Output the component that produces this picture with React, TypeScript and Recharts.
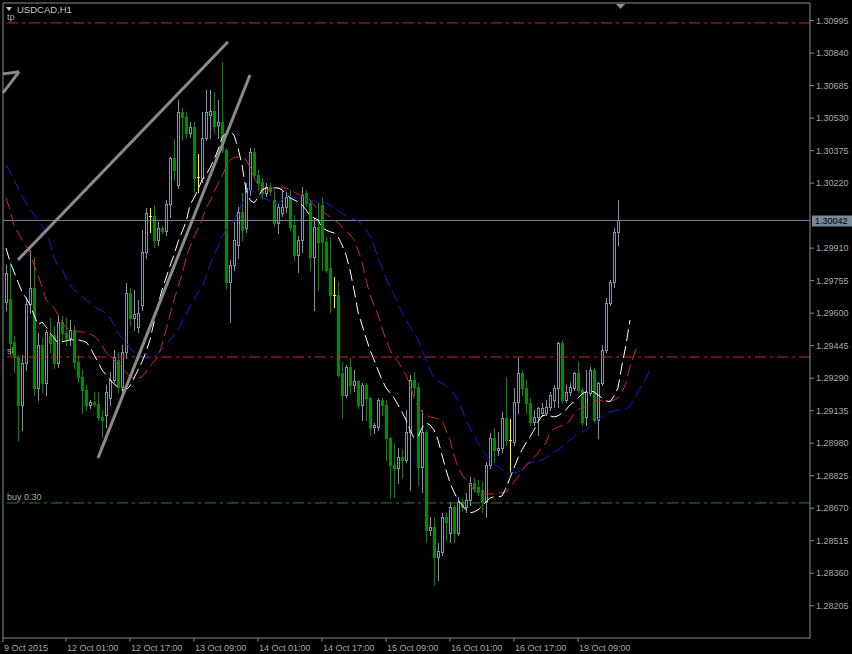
import { ComposedChart, Bar, Line, XAxis, YAxis, ReferenceLine, ReferenceDot } from 'recharts';

// USDCAD H1 — prices in points (1e-5), one entry per hourly bar
const OPEN = [
  129654, 129668, 129463, 129391, 129163, 129363, 129644, 129720, 129244, 129449,
  129267, 129492, 129497, 129363, 129558, 129506, 129482, 129520, 129368, 129296,
  129234, 129163, 129177, 129167, 129105, 129115, 129196, 129282, 129377, 129248,
  129415, 129697, 129578, 129535, 129639, 129892, 130064, 130064, 129950, 130007,
  129992, 130121, 130341, 130212, 130560, 130536, 130460, 130488, 130250, 130245,
  130436, 130546, 130565, 130498, 130512, 130379, 129749, 129830, 129926, 130083,
  130007, 130188, 130369, 130259, 130226, 130174, 130202, 130140, 130031, 130078,
  130107, 130150, 130021, 129878, 129950, 130174, 130126, 129868, 130011, 130116,
  129940, 129816, 129687, 129687, 129315, 129210, 129344, 129258, 129277, 129163,
  129258, 129196, 129058, 129058, 129186, 129163, 129005, 128876, 128862, 128915,
  128900, 129034, 129282, 129248, 128867, 129034, 128567, 128581, 128438, 128461,
  128628, 128552, 128676, 128552, 128700, 128676, 128709, 128790, 128771, 128757,
  128700, 128876, 129005, 128948, 128957, 129101, 128996, 128986, 129177, 129315,
  129244, 129172, 129082, 129105, 129124, 129124, 129153, 129186, 129244, 129458,
  129186, 129225, 129244, 129315, 129234, 129105, 129220, 129329, 129091, 129267,
  129425, 129649, 129749, 129988,
];
const HIGH = [
  129830, 129845, 129492, 129401, 129401, 129678, 129902, 129868, 129506, 129482,
  129520, 129578, 129539, 129592, 129587, 129578, 129568, 129544, 129401, 129329,
  129258, 129186, 129225, 129225, 129139, 129258, 129320, 129425, 129415, 129449,
  129744, 129720, 129711, 129663, 129997, 130102, 130102, 130116, 130035, 130016,
  130140, 130345, 130431, 130617, 130579, 130560, 130512, 130512, 130360, 130560,
  130665, 130665, 130655, 130617, 130798, 130388, 129854, 130035, 130107, 130174,
  130221, 130388, 130388, 130283, 130245, 130221, 130221, 130188, 130126, 130188,
  130178, 130188, 130069, 129969, 130202, 130188, 130140, 130054, 130131, 130155,
  129964, 129964, 129773, 129749, 129368, 129353, 129387, 129329, 129282, 129267,
  129267, 129201, 129077, 129196, 129196, 129186, 129010, 128981, 128957, 128948,
  129139, 129306, 129320, 129267, 129139, 129043, 128628, 128628, 128504, 128648,
  128648, 128700, 128686, 128724, 128719, 128743, 128819, 128814, 128805, 128795,
  128891, 129029, 129053, 129034, 129129, 129296, 129096, 129244, 129387, 129329,
  129282, 129196, 129139, 129153, 129172, 129186, 129225, 129258, 129463, 129473,
  129258, 129267, 129320, 129368, 129244, 129329, 129344, 129339, 129272, 129449,
  129673, 129759, 130007, 130140,
];
const LOW = [
  129616, 129401, 129320, 128996, 129043, 129329, 129601, 129210, 129186, 129225,
  129210, 129415, 129339, 129344, 129473, 129449, 129449, 129339, 129272, 129124,
  129139, 129148, 129158, 129091, 129010, 129058, 129163, 129272, 129220, 129225,
  129387, 129544, 129520, 129511, 129616, 129864, 129988, 129916, 129926, 129983,
  129973, 130059, 130236, 130197, 130426, 130436, 130441, 130178, 130178, 130226,
  130426, 130436, 130460, 130436, 130369, 129720, 129558, 129806, 129864, 129950,
  129988, 130164, 130245, 130188, 130150, 130159, 130164, 130016, 129983, 130064,
  130083, 129997, 129854, 129797, 129892, 130112, 129806, 129616, 129711, 129806,
  129797, 129606, 129630, 129296, 129101, 129201, 129220, 129229, 129148, 129091,
  129091, 129020, 129029, 129043, 129115, 128900, 128724, 128724, 128790, 128814,
  128891, 128757, 129210, 128781, 128747, 128509, 128543, 128304, 128328, 128447,
  128519, 128509, 128509, 128543, 128662, 128652, 128686, 128747, 128733, 128652,
  128628, 128862, 128891, 128924, 128938, 128972, 128843, 128972, 129124, 129210,
  129124, 129067, 129067, 129020, 129110, 129115, 129139, 129153, 129153, 129172,
  129177, 129210, 129234, 129225, 129067, 129067, 129210, 129082, 129005, 129258,
  129415, 129639, 129725, 129926,
];
const CLOSE = [
  129792, 129458, 129391, 129163, 129363, 129644, 129720, 129244, 129449, 129267,
  129511, 129458, 129363, 129558, 129506, 129482, 129520, 129368, 129296, 129234,
  129163, 129177, 129167, 129105, 129091, 129225, 129282, 129391, 129248, 129415,
  129697, 129578, 129597, 129601, 129892, 130078, 130064, 129950, 130007, 129992,
  130121, 130341, 130283, 130560, 130536, 130460, 130488, 130245, 130250, 130436,
  130560, 130565, 130493, 130512, 130379, 129749, 129830, 129950, 130083, 129997,
  130197, 130369, 130259, 130221, 130174, 130202, 130183, 130031, 130107, 130107,
  130155, 130011, 129878, 129950, 130164, 130126, 129868, 130011, 129940, 129940,
  129806, 129687, 129687, 129306, 129210, 129344, 129258, 129277, 129163, 129258,
  129196, 129058, 129067, 129186, 129163, 129005, 128876, 128862, 128915, 128900,
  129034, 129282, 129248, 128867, 129034, 128567, 128581, 128438, 128466, 128628,
  128605, 128676, 128552, 128700, 128676, 128709, 128790, 128766, 128747, 128700,
  128876, 129005, 128948, 128957, 129101, 128996, 128996, 129177, 129315, 129244,
  129172, 129082, 129105, 129148, 129148, 129153, 129210, 129244, 129458, 129186,
  129225, 129248, 129315, 129234, 129082, 129225, 129329, 129091, 129267, 129425,
  129649, 129749, 129988, 130042,
];

// Alligator lines (lips shifted 3 bars, teeth 5, jaw 8)
const LIPS = [
  129911, 129845, 129797, 129749, 129701, 129673, 129639, 129592, 129544, 129558,
  129535, 129506, 129482, 129458, 129463, 129468, 129473, 129473, 129473, 129468,
  129463, 129439, 129401, 129368, 129329, 129306, 129282, 129263, 129248, 129234,
  129234, 129253, 129291, 129329, 129368, 129415, 129473, 129558, 129639, 129711,
  129768, 129825, 129878, 129940, 129988, 130035, 130116, 130150, 130188, 130236,
  130259, 130293, 130331, 130379, 130436, 130460, 130465, 130450, 130388, 130307,
  130188, 130140, 130126, 130150, 130188, 130197, 130197, 130197, 130197, 130188,
  130169, 130150, 130140, 130131, 130116, 130093, 130064, 130054, 130045, 130007,
  129997, 129988, 129983, 129964, 129926, 129878, 129806, 129711, 129606, 129544,
  129482, 129425, 129377, 129329, 129282, 129244, 129220, 129196, 129163, 129129,
  129091, 129043, 129005, 129010, 129053, 129077, 129067, 129043, 128996, 128924,
  128853, 128790, 128747, 128709, 128686, 128662, 128648, 128652, 128662, 128681,
  128700, 128719, 128724, 128724, 128728, 128766, 128814, 128862, 128910, 128948,
  128981, 129010, 129043, 129082, 129110, 129115, 129110, 129105, 129110, 129124,
  129139, 129163, 129177, 129196, 129215, 129225, 129229, 129225, 129210, 129196,
  129182, 129177, 129205, 129244, 129353, 129449, 129568,
];
const TEETH = [
  130150, 130093, 130021, 129983, 129950, 129921, 129892, 129830, 129782, 129725,
  129663, 129644, 129625, 129592, 129558, 129530, 129520, 129516, 129511, 129511,
  129506, 129501, 129492, 129473, 129444, 129415, 129391, 129377, 129358, 129339,
  129320, 129296, 129291, 129291, 129296, 129320, 129349, 129368, 129391, 129449,
  129520, 129592, 129663, 129725, 129782, 129864, 129916, 129964, 130002, 130045,
  130102, 130131, 130178, 130217, 130250, 130298, 130331, 130341, 130345, 130345,
  130331, 130298, 130250, 130212, 130197, 130193, 130188, 130197, 130197, 130197,
  130197, 130188, 130178, 130169, 130159, 130155, 130140, 130116, 130097, 130088,
  130073, 130059, 130045, 130031, 130011, 129992, 129973, 129950, 129902, 129845,
  129759, 129687, 129639, 129592, 129530, 129473, 129425, 129391, 129368, 129339,
  129306, 129258, 129196, 129153, 129129, 129115, 129105, 129101, 129096, 129091,
  129043, 128996, 128924, 128867, 128829, 128805, 128781, 128757, 128747, 128743,
  128738, 128738, 128738, 128743, 128743, 128747, 128766, 128795, 128819, 128848,
  128876, 128891, 128910, 128934, 128962, 128981, 129034, 129048, 129058, 129063,
  129067, 129091, 129120, 129139, 129148, 129153, 129163, 129177, 129186, 129182,
  129177, 129182, 129186, 129196, 129225, 129267, 129344, 129401, 129449,
];
const JAW = [
  130307, 130274, 130236, 130197, 130159, 130126, 130097, 130069, 130045, 130016,
  129988, 129935, 129864, 129830, 129811, 129768, 129735, 129711, 129697, 129682,
  129663, 129649, 129635, 129620, 129611, 129601, 129578, 129544, 129506, 129482,
  129463, 129434, 129415, 129401, 129391, 129387, 129387, 129396, 129410, 129425,
  129449, 129473, 129497, 129520, 129558, 129592, 129630, 129663, 129701, 129720,
  129773, 129830, 129878, 129916, 129964, 129997, 130011, 130045, 130083, 130121,
  130164, 130188, 130178, 130164, 130155, 130145, 130135, 130126, 130121, 130140,
  130155, 130155, 130155, 130150, 130145, 130140, 130135, 130135, 130131, 130131,
  130126, 130116, 130102, 130088, 130078, 130064, 130054, 130050, 130040, 130021,
  129997, 129969, 129921, 129864, 129816, 129768, 129725, 129687, 129649, 129601,
  129568, 129535, 129506, 129473, 129425, 129377, 129329, 129296, 129277, 129267,
  129253, 129234, 129215, 129186, 129139, 129091, 129053, 129020, 128981, 128948,
  128924, 128900, 128881, 128867, 128853, 128848, 128843, 128838, 128843, 128853,
  128872, 128886, 128891, 128896, 128900, 128910, 128924, 128938, 128948, 128962,
  128981, 128996, 129010, 129024, 129034, 129043, 129058, 129077, 129091, 129105,
  129120, 129129, 129134, 129139, 129139, 129143, 129158, 129186, 129225, 129258,
  129291, 129329,
];

const PRICE_TICKS = [
  1.30995, 1.3084, 1.30685, 1.3053, 1.30375, 1.3022, 1.2991, 1.29755, 1.296,
  1.29445, 1.2929, 1.29135, 1.2898, 1.28825, 1.2867, 1.28515, 1.2836, 1.28205,
];
const TIME_LABELS = [
  '9 Oct 2015', '12 Oct 01:00', '12 Oct 17:00', '13 Oct 09:00', '14 Oct 01:00',
  '14 Oct 17:00', '15 Oct 09:00', '16 Oct 01:00', '16 Oct 17:00', '19 Oct 09:00',
];
const TIME_BARS = [-0.75, 15, 31, 47, 63, 79, 95, 111, 127, 143];

const BID = 1.30042;
const TP = 1.30984;
const SL = 1.29391;
const BUY = 1.28695;

// hand-drawn trendlines: [bar, price] pairs
const TRENDLINES = [
  [[3, 1.29854], [55.5, 1.30894]],
  [[23, 1.2891], [61, 1.30736]],
  [[-0.75, 1.30741], [3.25, 1.30751]],
  [[3.25, 1.30751], [-0.75, 1.3065]],
];

const X_DOMAIN = [-0.75, 201];
const Y_DOMAIN = [1.28051, 1.31079];

const FONT = '"Liberation Sans", Arial, sans-serif';
const GREY = '#8494a6';
const GREEN = '#008c00';
const YELLOW = '#ffff00';
const FRAME = '#8c8c8c';
const TEXT = '#a8a8a8';

const pt = (v: number) => v / 1e5;

const rows = JAW.map((_, i) => ({
  i,
  range: i < OPEN.length ? [pt(LOW[i]), pt(HIGH[i])] : undefined,
  open: i < OPEN.length ? pt(OPEN[i]) : undefined,
  high: i < OPEN.length ? pt(HIGH[i]) : undefined,
  low: i < OPEN.length ? pt(LOW[i]) : undefined,
  close: i < OPEN.length ? pt(CLOSE[i]) : undefined,
  lips: i < LIPS.length ? pt(LIPS[i]) : undefined,
  teeth: i < TEETH.length ? pt(TEETH[i]) : undefined,
  jaw: pt(JAW[i]),
}));

function Candle(props: any) {
  const { x, y, width, height, payload } = props;
  if (!payload || payload.open == null) return null;
  const { open, close, high, low } = payload;
  const cx = Math.round(x + width / 2);
  const top = Math.min(y, y + height);
  const span = Math.abs(height);
  const per = high > low ? span / (high - low) : 0;
  const yO = top + (high - open) * per;
  const yC = top + (high - close) * per;
  const bTop = Math.round(Math.min(yO, yC));
  const bBot = Math.round(Math.max(yO, yC));
  const doji = open === close;
  const up = close > open;
  const color = doji ? YELLOW : up ? GREY : GREEN;
  return (
    <g shapeRendering="crispEdges">
      <line x1={cx + 0.5} x2={cx + 0.5} y1={Math.round(top)} y2={Math.round(top + span) + 1} stroke={color} />
      {doji ? (
        <line x1={cx - 1} x2={cx + 2} y1={bTop + 0.5} y2={bTop + 0.5} stroke={YELLOW} />
      ) : up ? (
        <rect x={cx - 0.5} y={bTop + 0.5} width={2} height={Math.max(1, bBot - bTop)} fill="#000" stroke={GREY} />
      ) : (
        <rect x={cx - 1} y={bTop} width={3} height={Math.max(1, bBot - bTop + 1)} fill={GREEN} />
      )}
    </g>
  );
}

function TimeTick(props: any) {
  const { x, y, payload } = props;
  const idx = TIME_BARS.indexOf(payload.value);
  return (
    <text x={x + 1} y={y + 7} fill={TEXT} fontSize={9} fontFamily={FONT}>
      {TIME_LABELS[idx] ?? ''}
    </text>
  );
}

function LevelLabel(props: any) {
  const { viewBox, text } = props;
  if (!viewBox) return null;
  return (
    <text x={viewBox.x + 4} y={viewBox.y - 3} fill={TEXT} fontSize={9} fontFamily={FONT}>
      {text}
    </text>
  );
}

function BidLabel(props: any) {
  const { viewBox } = props;
  if (!viewBox) return null;
  const bx = viewBox.x + viewBox.width + 2;
  return (
    <g>
      <rect x={bx} y={viewBox.y - 5} width={42} height={11} fill="#778899" />
      <text x={bx + 3} y={viewBox.y + 4} fill="#000" fontSize={9} fontFamily={FONT}>
        {BID.toFixed(5)}
      </text>
    </g>
  );
}

function ShiftMark(props: any) {
  const { cx, cy } = props;
  return <polygon points={`${cx - 4},${cy + 1} ${cx + 5},${cy + 1} ${cx + 0.5},${cy + 6}`} fill={FRAME} />;
}

export default function App() {
  return (
    <div style={{ width: 852, height: 654, background: '#000', position: 'relative' }}>
      <style>{`body{margin:0;background:#000}`}</style>
      <ComposedChart
        width={852}
        height={654}
        data={rows}
        margin={{ top: 3, right: 0, bottom: 0, left: 3 }}
        style={{ background: '#000' }}
      >
        <XAxis
          type="number"
          dataKey="i"
          domain={X_DOMAIN}
          allowDataOverflow
          ticks={TIME_BARS}
          interval={0}
          height={16}
          tickSize={4}
          axisLine={{ stroke: FRAME }}
          tickLine={{ stroke: FRAME }}
          tick={<TimeTick />}
        />
        <YAxis
          orientation="right"
          type="number"
          domain={Y_DOMAIN}
          allowDataOverflow
          ticks={PRICE_TICKS}
          interval={0}
          width={42}
          tickSize={4}
          axisLine={{ stroke: FRAME }}
          tickLine={{ stroke: FRAME }}
          tick={{ fill: TEXT, fontSize: 9, fontFamily: FONT }}
          tickFormatter={(v: number) => v.toFixed(5)}
        />
        <ReferenceLine x={X_DOMAIN[0]} stroke={FRAME} />
        <ReferenceLine y={Y_DOMAIN[1]} stroke={FRAME} />
        <ReferenceLine y={TP} stroke="#c62828" strokeDasharray="11 4 3 4" label={<LevelLabel text="tp" />} />
        <ReferenceLine y={SL} stroke="#c62828" strokeDasharray="11 4 3 4" label={<LevelLabel text="sl" />} />
        <ReferenceLine y={BUY} stroke="#1e8c1e" strokeDasharray="11 4 3 4" label={<LevelLabel text="buy 0.30" />} />
        <ReferenceLine y={BID} stroke="#778899" label={<BidLabel />} />
        <Bar dataKey="range" barSize={3} shape={<Candle />} isAnimationActive={false} />
        <Line dataKey="jaw" stroke="#1a1ad0" strokeWidth={1} strokeDasharray="12 5" dot={false} isAnimationActive={false} />
        <Line dataKey="teeth" stroke="#d42424" strokeWidth={1} strokeDasharray="12 5" dot={false} isAnimationActive={false} />
        <Line dataKey="lips" stroke="#ffffff" strokeWidth={1} strokeDasharray="12 5" dot={false} isAnimationActive={false} />
        {TRENDLINES.map((seg, n) => (
          <ReferenceLine
            key={n}
            segment={[
              { x: seg[0][0], y: seg[0][1] },
              { x: seg[1][0], y: seg[1][1] },
            ]}
            stroke="#8a8a8a"
            strokeWidth={3}
            ifOverflow="visible"
          />
        ))}
        <ReferenceDot x={153.5} y={Y_DOMAIN[1]} r={4} shape={<ShiftMark />} ifOverflow="visible" />
      </ComposedChart>
      <svg width={120} height={20} style={{ position: 'absolute', left: 0, top: 0 }}>
        <polygon points="6,7 12,7 9,11" fill="#c8c8c8" />
        <text x={17} y={13} fill="#c8c8c8" fontSize={9.5} fontFamily={FONT}>
          USDCAD,H1
        </text>
      </svg>
    </div>
  );
}
